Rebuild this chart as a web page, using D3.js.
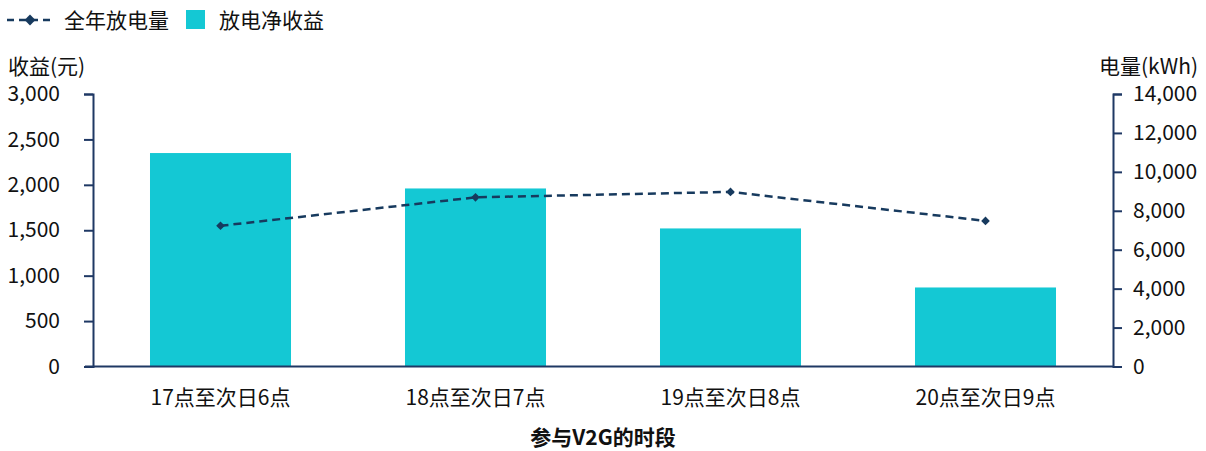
<!DOCTYPE html>
<html><head><meta charset="utf-8">
<script src="https://cdn.jsdelivr.net/npm/d3@7"></script>
<style>
body{margin:0;background:#fff;}
svg{display:block;font-family:"Noto Sans CJK SC","Noto Sans",sans-serif;}
</style></head>
<body>
<svg id="c" width="1206" height="451"></svg>
<script>
const categories = ["17点至次日6点","18点至次日7点","19点至次日8点","20点至次日9点"];
const revenue = [2350, 1960, 1520, 870];      // 放电净收益 (元)
const energy = [7230, 8690, 8970, 7480];      // 全年放电量 (kWh)
const leftTicks = [0,500,1000,1500,2000,2500,3000];
const rightTicks = [0,2000,4000,6000,8000,10000,12000,14000];

const barColor = "#14C8D4", lineColor = "#173A5E", axisColor = "#1F3864";
const FS = 21;
const svg = d3.select("#c");
const L = 93, R = 1113, T = 94, B = 366.5;

const x = d3.scaleBand().domain(categories).range([L, R]).paddingInner(0.447).paddingOuter(0.2235);
const yL = d3.scaleLinear().domain([0,3000]).range([B, T]);
const yR = d3.scaleLinear().domain([0,14000]).range([B, T]);
const fmt = d3.format(",");

// bars
svg.append("g").selectAll("rect").data(revenue).join("rect")
  .attr("x",(d,i)=>x(categories[i])).attr("width",x.bandwidth())
  .attr("y",d=>yL(d)).attr("height",d=>B-yL(d)).attr("fill",barColor);

// axes
const gl = svg.append("g").attr("transform",`translate(${L},0)`)
  .call(d3.axisLeft(yL).tickValues(leftTicks).tickFormat(fmt).tickSizeOuter(0).tickSize(9).tickPadding(24));
const gr = svg.append("g").attr("transform",`translate(${R},0)`)
  .call(d3.axisRight(yR).tickValues(rightTicks).tickFormat(fmt).tickSizeOuter(0).tickSize(9).tickPadding(11));
const gx = svg.append("g").attr("transform",`translate(0,${B})`)
  .call(d3.axisBottom(x).tickSize(0).tickPadding(24));
[gl,gr,gx].forEach(g=>{
  g.selectAll("path,line").attr("stroke",axisColor).attr("stroke-width",2);
  g.selectAll("text").attr("font-size",FS).attr("fill","#111").attr("font-family",'"Noto Sans CJK SC",sans-serif');
});
gx.select("path").attr("d",`M${L-8},0H${R}`);

// line
const pts = energy.map((d,i)=>[x(categories[i])+x.bandwidth()/2, yR(d)]);
svg.append("path").attr("d",d3.line()(pts)).attr("fill","none")
  .attr("stroke",lineColor).attr("stroke-width",2.5).attr("stroke-dasharray","8,5");
const diamond = d3.symbol().type(d3.symbolDiamond2).size(48);
svg.append("g").selectAll("path").data(pts).join("path")
  .attr("transform",d=>`translate(${d[0]},${d[1]})`).attr("d",diamond).attr("fill",lineColor);

// axis titles
svg.append("text").attr("x",8).attr("y",74).attr("font-size",FS).attr("fill","#111").text("收益(元)");
svg.append("text").attr("x",1198).attr("y",74).attr("text-anchor","end").attr("font-size",FS).attr("fill","#111").text("电量(kWh)");
svg.append("text").attr("x",(L+R)/2).attr("y",445).attr("text-anchor","middle").attr("font-size",FS).attr("font-weight","bold").attr("fill","#111").text("参与V2G的时段");

// legend
const lg = svg.append("g");
lg.append("line").attr("x1",7).attr("x2",51).attr("y1",20).attr("y2",20).attr("stroke",lineColor).attr("stroke-width",2.5).attr("stroke-dasharray","7,5");
lg.append("path").attr("transform","translate(30,20)").attr("d",d3.symbol().type(d3.symbolDiamond2).size(75)).attr("fill",lineColor);
lg.append("text").attr("x",64).attr("y",27.5).attr("font-size",FS).attr("fill","#111").text("全年放电量");
lg.append("rect").attr("x",186).attr("y",10).attr("width",19).attr("height",19).attr("fill",barColor);
lg.append("text").attr("x",219).attr("y",27.5).attr("font-size",FS).attr("fill","#111").text("放电净收益");
</script>
</body></html>
